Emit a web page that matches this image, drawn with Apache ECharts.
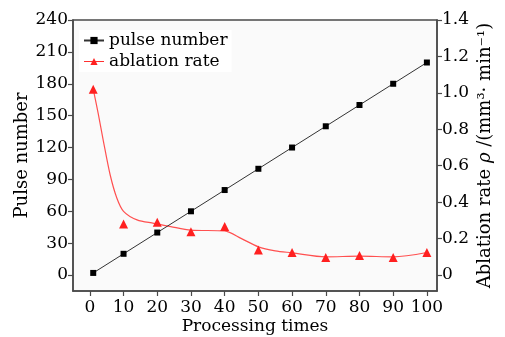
<!DOCTYPE html>
<html><head><meta charset="utf-8">
<script src="https://cdn.jsdelivr.net/npm/echarts@6/dist/echarts.min.js"></script>
<style>html,body{margin:0;padding:0;background:#fff}#c{width:505px;height:337px}</style>
</head><body><div id="c"></div>
<script>
const xTicks = [0,10,20,30,40,50,60,70,80,90,100];
const leftTicks = [0,30,60,90,120,150,180,210,240];
const rightTicks = [0,0.2,0.4,0.6,0.8,1.0,1.2,1.4];
const pulseX = [1,10,20,30,40,50,60,70,80,90,100];
const pulseY = [2,20,40,60,80,100,120,140,160,180,200];
const rateX = [1,10,20,30,40,50,60,70,80,90,100];
const rateY = [1.02,0.28,0.29,0.238,0.266,0.137,0.124,0.096,0.107,0.096,0.124];
const curveX = [1,2.5,4,6,8,10,14,19,24,30,40,45,50,55,60,70,80,90,100];
const curveY = [1.02,0.885,0.737,0.552,0.423,0.35,0.303,0.284,0.266,0.247,0.242,0.20,0.155,0.133,0.122,0.10,0.104,0.10,0.124];

const FONT = 'DejaVu Serif';
const AX = '#4a4a4a';
const chart = echarts.init(document.getElementById('c'), null, {renderer:'canvas'});
const zip = (a,b)=>a.map((v,i)=>[v,b[i]]);
chart.setOption({
  animation:false,
  backgroundColor:'#fff',
  textStyle:{fontFamily:FONT,color:'#000'},
  grid:{left:73,right:68,top:20,bottom:46,containLabel:false,outerBoundsMode:'none',show:true,borderColor:AX,borderWidth:1.5,backgroundColor:'#fafafa'},
  legend:{
    left:79,top:30,orient:'vertical',itemGap:4,itemWidth:20,itemHeight:9,
    backgroundColor:'#fff',padding:[2,4,2,4],
    textStyle:{fontFamily:FONT,fontSize:17,color:'#000'},
    data:[
      {name:'pulse number'},
      {name:'ablation rate',lineStyle:{opacity:1,color:'#ff3030',width:1}}
    ]
  },
  xAxis:{
    type:'value',min:-5,max:103,
    name:'Processing times',nameLocation:'middle',nameGap:27,nameMoveOverlap:false,
    nameTextStyle:{fontFamily:FONT,fontSize:17,color:'#000'},
    axisLine:{show:true,onZero:false,lineStyle:{color:AX,width:1.5}},
    axisTick:{show:true,customValues:xTicks,length:5,lineStyle:{color:AX,width:1.2}},
    axisLabel:{customValues:xTicks,fontFamily:FONT,fontSize:17,color:'#000',margin:8},
    splitLine:{show:false}
  },
  yAxis:[{
    type:'value',min:-15,max:240,position:'left',
    name:'Pulse number',nameLocation:'middle',nameGap:42,nameRotate:90,nameMoveOverlap:false,
    nameTextStyle:{fontFamily:FONT,fontSize:18,color:'#000'},
    axisLine:{show:true,onZero:false,lineStyle:{color:AX,width:1.5}},
    axisTick:{show:true,customValues:leftTicks,length:5,lineStyle:{color:AX,width:1.2}},
    axisLabel:{customValues:leftTicks,fontFamily:FONT,fontSize:17,color:'#000',margin:5},
    splitLine:{show:false}
  },{
    type:'value',min:-0.0875,max:1.4,position:'right',
    name:'{a|Ablation rate }{i|ρ}{a| /(mm³· min⁻¹)}',nameLocation:'middle',nameGap:39,nameRotate:90,nameMoveOverlap:false,
    nameTextStyle:{fontFamily:FONT,fontSize:18,color:'#000',rich:{a:{fontFamily:FONT,fontSize:18,color:'#000'},i:{fontFamily:FONT,fontSize:18,fontStyle:'italic',color:'#000'}}},
    axisLine:{show:true,onZero:false,lineStyle:{color:AX,width:1.5}},
    axisTick:{show:true,customValues:rightTicks,length:5,lineStyle:{color:AX,width:1.2}},
    axisLabel:{customValues:rightTicks,fontFamily:FONT,fontSize:17,color:'#000',margin:5,
      formatter:v=>v===0?'0':v.toFixed(1)},
    splitLine:{show:false}
  }],
  series:[
    {name:'pulse number',type:'line',yAxisIndex:0,data:zip(pulseX,pulseY),
      symbol:'rect',symbolSize:6,itemStyle:{color:'#000'},lineStyle:{color:'#333',width:1}},
    {name:'ablation curve',type:'line',yAxisIndex:1,data:zip(curveX,curveY),
      smooth:0.3,showSymbol:false,symbol:'none',lineStyle:{color:'#ff5050',width:1.2},z:1},
    {name:'ablation rate',type:'line',yAxisIndex:1,data:zip(rateX,rateY),
      symbol:'triangle',symbolSize:9,itemStyle:{color:'#ff2020'},lineStyle:{opacity:0},z:3}
  ]
});
</script></body></html>
